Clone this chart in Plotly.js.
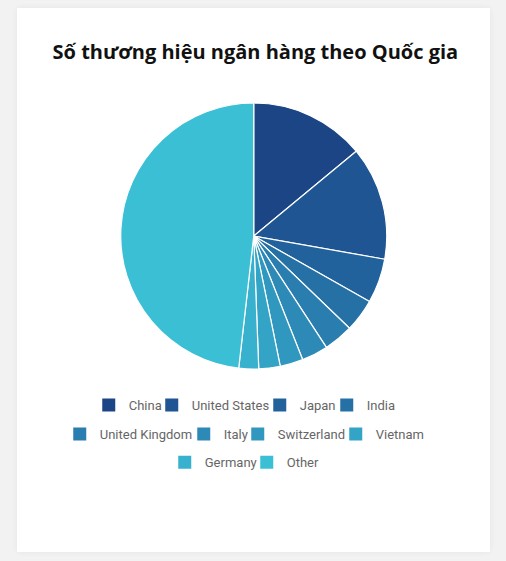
<!DOCTYPE html>
<html>
<head>
<meta charset="utf-8">
<script src="https://cdn.plot.ly/plotly-3.0.1.min.js"></script>
<style>
html,body{margin:0;padding:0;background:#f2f2f2;width:506px;height:561px;overflow:hidden;}
#card{position:absolute;left:17px;top:8px;width:473px;height:544px;background:#fff;box-shadow:0 0 6px rgba(0,0,0,0.06);border-radius:3px;}
#chart{width:473px;height:544px;}
</style>
</head>
<body>
<div id="card"><div id="chart"></div></div>
<script>
const countries = ["China","United States","Japan","India","United Kingdom","Italy","Switzerland","Vietnam","Germany","Other"];
const brandCounts = [70, 69, 27, 20, 18, 16, 14, 13, 12, 241];
const sliceColors = ["#1c4585","#1f5592","#22629c","#2570a5","#2a7daf","#2d8ab7","#3097bf","#33a4c6","#37b1cd","#3bbfd4"];

// legend layout (chart px, left edge of each legend entry) and row (paper y)
const legendLeftPx = [71.75, 134.75, 242.75, 309.75, 42.75, 166.75, 220.75, 318.75, 147.75, 229.75];
const legendRowY = [0.270, 0.270, 0.270, 0.270, 0.217, 0.217, 0.217, 0.217, 0.165, 0.165];

const W = 473, H = 544;

const traces = [{
  type: "pie",
  labels: countries,
  values: brandCounts,
  sort: false,
  direction: "clockwise",
  rotation: 0,
  textinfo: "none",
  hoverinfo: "label+value",
  showlegend: false,
  marker: {colors: sliceColors, line: {color: "#ffffff", width: 1.2}},
  domain: {x: [0.2193, 0.7817], y: [0.3364, 0.8254]}
}];

const layout = {
  width: W, height: H,
  margin: {l: 0, r: 0, t: 0, b: 0},
  paper_bgcolor: "#ffffff", plot_bgcolor: "#ffffff",
  title: {
    text: "<b>Số thương hiệu ngân hàng theo Quốc gia</b>",
    font: {family: "Open Sans, sans-serif", size: 20, color: "#111"},
    x: 0.504, xanchor: "center", y: 0.919, yanchor: "middle", yref: "container"
  },
  xaxis: {visible: false, fixedrange: true}, yaxis: {visible: false, fixedrange: true},
  showlegend: true
};

countries.forEach((c, i) => {
  const key = i === 0 ? "legend" : "legend" + (i + 1);
  traces.push({
    type: "scatter", mode: "markers", x: [null], y: [null],
    name: c, legend: key, showlegend: true,
    marker: {symbol: "square", size: 13, color: sliceColors[i]},
    hoverinfo: "skip"
  });
  layout[key] = {
    orientation: "h", xanchor: "left", x: legendLeftPx[i] / W,
    yanchor: "middle", y: legendRowY[i],
    font: {family: "Roboto, sans-serif", size: 13, color: "#666"},
    bgcolor: "rgba(0,0,0,0)", borderwidth: 0,
    itemclick: false, itemdoubleclick: false
  };
});

Plotly.newPlot("chart", traces, layout, {displayModeBar: false, staticPlot: true});
</script>
</body>
</html>
